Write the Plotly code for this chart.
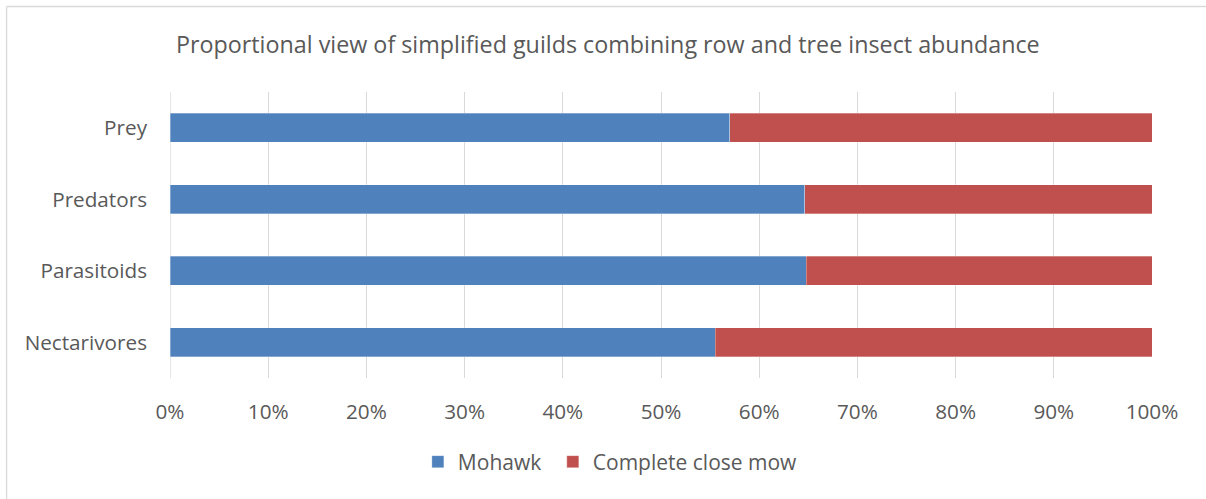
import plotly.graph_objects as go

categories = ["Nectarivores", "Parasitoids", "Predators", "Prey"]
mohawk = [55.5, 64.8, 64.65, 57.0]
close_mow = [44.5, 35.2, 35.35, 43.0]
x_ticks = [0, 10, 20, 30, 40, 50, 60, 70, 80, 90, 100]
x_tick_labels = [f"{v}%" for v in x_ticks]

W, H = 1206, 499
ML, MR, MT, MB = 170, 53.5, 92, 121
PW, PH = W - ML - MR, H - MT - MB

def px_x(px):
    return (px - ML) / PW

def px_y(py):
    return (H - MB - py) / PH

TEXT = "#595959"
FONT = "Open Sans"

fig = go.Figure()
fig.add_trace(go.Bar(y=categories, x=mohawk, name="Mohawk", orientation="h", legend="legend",
                     marker=dict(color="#4F81BD", line=dict(color="rgba(255,255,255,0.5)", width=0.6))))
fig.add_trace(go.Bar(y=categories, x=close_mow, name="Complete close mow", orientation="h",
                     legend="legend2",
                     marker=dict(color="#C0504D", line=dict(color="rgba(255,255,255,0.5)", width=0.6))))

legend_common = dict(orientation="h", xanchor="left", y=px_y(462), yanchor="middle",
                     font=dict(family=FONT, size=21, color=TEXT), itemwidth=30,
                     bgcolor="rgba(0,0,0,0)")

fig.update_layout(
    width=W, height=H,
    margin=dict(l=ML, r=MR, t=MT, b=MB),
    barmode="stack", bargap=0.6,
    paper_bgcolor="white", plot_bgcolor="white",
    font=dict(family=FONT, color=TEXT, size=20.7),
    title=dict(text="Proportional view of simplified guilds combining row and tree insect abundance",
               x=0.504, xanchor="center", y=1 - 45 / H, yanchor="middle",
               font=dict(family=FONT, size=23.3, color=TEXT)),
    xaxis=dict(range=[0, 100], tickvals=x_ticks, ticktext=x_tick_labels,
               showgrid=True, gridcolor="#D9D9D9", gridwidth=1.3,
               zeroline=False, showline=False, ticks="", ticklabelstandoff=19,
               tickfont=dict(family=FONT, size=20.7, color=TEXT), fixedrange=True),
    yaxis=dict(showgrid=False, zeroline=False, showline=False, ticks="",
               ticklabelstandoff=22, tickfont=dict(family=FONT, size=20.7, color=TEXT),
               categoryorder="array", categoryarray=categories, fixedrange=True),
    legend=dict(x=px_x(418), **legend_common),
    legend2=dict(x=px_x(553), **legend_common),
    showlegend=True,
)

# 0% gridline (rendered as a grid line in reference)
fig.add_shape(type="line", xref="x", yref="paper", x0=0, x1=0, y0=0, y1=1,
              line=dict(color="#D9D9D9", width=1.3), layer="below")

# chart border (left and top visible)
fig.add_shape(type="line", xref="paper", yref="paper", x0=px_x(6.5), x1=px_x(6.5),
              y0=px_y(6.5), y1=px_y(H + 2), line=dict(color="#D9D9D9", width=1.3))
fig.add_shape(type="line", xref="paper", yref="paper", x0=px_x(6.5), x1=px_x(W + 2),
              y0=px_y(6.5), y1=px_y(6.5), line=dict(color="#D9D9D9", width=1.3))

fig.write_html("out.html", config={"displayModeBar": False},
               post_script="document.body.style.margin='0';document.body.style.overflow='hidden';")
